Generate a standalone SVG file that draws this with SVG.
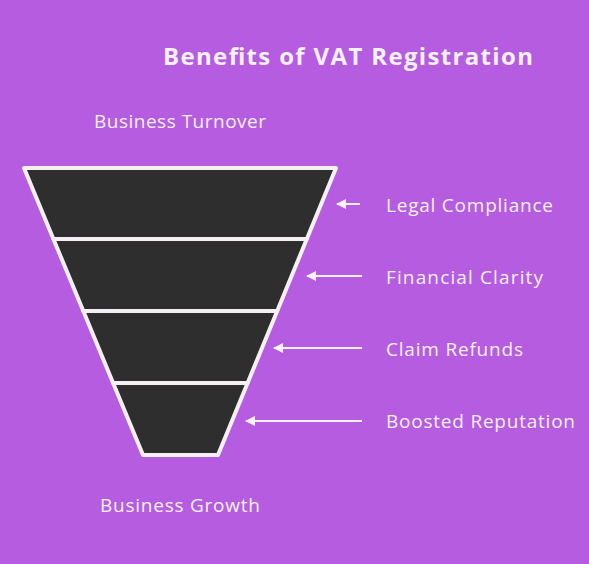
<svg xmlns="http://www.w3.org/2000/svg" width="589" height="564" viewBox="0 0 589 564">
<style>
.t{font-family:"Open Sans","Liberation Sans",sans-serif;fill:#f6f0f8;}
.lbl{font-size:19px;}
.seg{fill:#2e2e2e;stroke:#f4f0f4;stroke-width:4;stroke-linejoin:round;}
.arr{stroke:#f6f0f8;stroke-width:2;fill:none;marker-end:url(#ah);}
</style>
<defs>
<marker id="ah" viewBox="0 0 10 10" refX="9" refY="5" markerWidth="5" markerHeight="5" orient="auto" markerUnits="strokeWidth">
<path d="M0,0 L10,5 L0,10 z" fill="#f6f0f8"/>
</marker>
</defs>
<rect width="589" height="564" fill="#b55ce0"/>
<text class="t" x="163" y="65" font-size="24" font-weight="bold" textLength="370" lengthAdjust="spacing">Benefits of VAT Registration</text>
<text class="t lbl" x="94" y="128" textLength="172" lengthAdjust="spacing">Business Turnover</text>
<text class="t lbl" x="100" y="512" textLength="160" lengthAdjust="spacing">Business Growth</text>
<g id="funnel">
<g id="seg1"><polygon class="seg" points="24,168 336,168 306.8,239 53.4,239"/></g>
<g id="seg2"><polygon class="seg" points="53.4,239 306.8,239 277.2,311 83.3,311"/></g>
<g id="seg3"><polygon class="seg" points="83.3,311 277.2,311 247.6,383 113.1,383"/></g>
<g id="seg4"><polygon class="seg" points="113.1,383 247.6,383 218,455 143,455"/></g>
</g>
<g id="connectors">
<line class="arr" x1="360" y1="204" x2="337" y2="204"/>
<line class="arr" x1="362" y1="276" x2="307" y2="276"/>
<line class="arr" x1="362" y1="348" x2="274" y2="348"/>
<line class="arr" x1="362" y1="421" x2="246" y2="421"/>
</g>
<g id="labels">
<text class="t lbl" x="386" y="212" textLength="167" lengthAdjust="spacing">Legal Compliance</text>
<text class="t lbl" x="386" y="284" textLength="157" lengthAdjust="spacing">Financial Clarity</text>
<text class="t lbl" x="386" y="356" textLength="137" lengthAdjust="spacing">Claim Refunds</text>
<text class="t lbl" x="386" y="428" textLength="189" lengthAdjust="spacing">Boosted Reputation</text>
</g>
</svg>
